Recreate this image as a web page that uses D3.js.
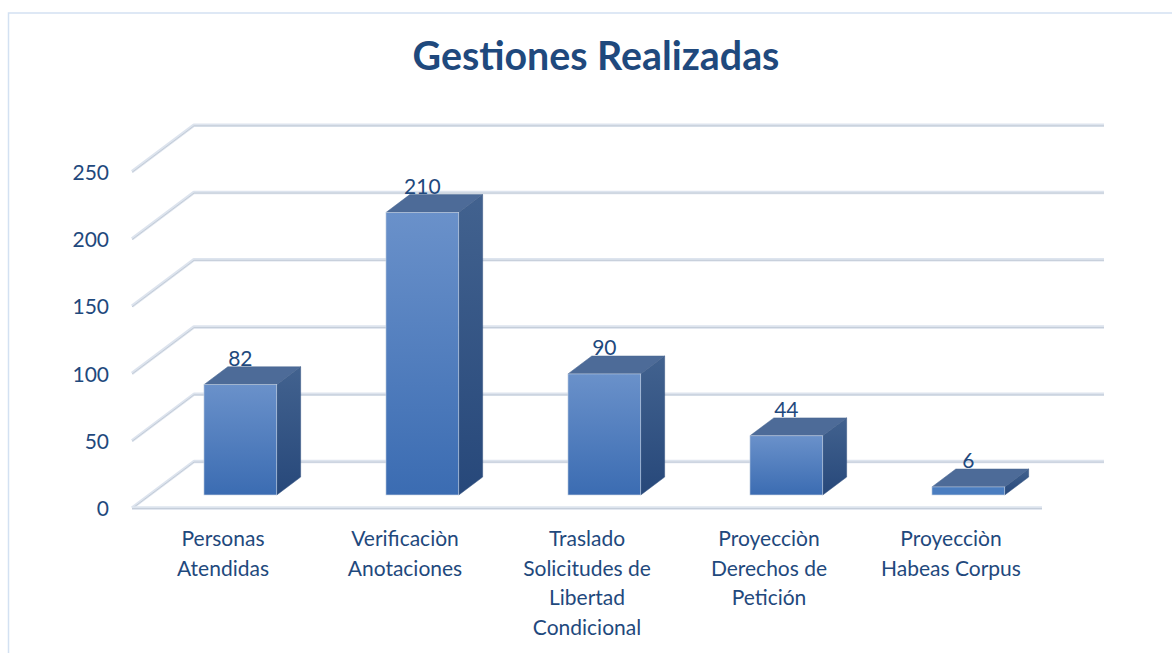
<!DOCTYPE html>
<html>
<head>
<meta charset="utf-8">
<script src="https://cdn.jsdelivr.net/npm/d3@7"></script>
<style>
  html, body { margin: 0; padding: 0; background: #ffffff; }
  svg { display: block; }
  text { font-family: Lato, "Open Sans", sans-serif; fill: #1f497d; }
</style>
</head>
<body>
<svg id="chart" width="1172" height="653"></svg>
<script>
// Chart data
const title = "Gestiones Realizadas";
const categories = [
  "Personas Atendidas",
  "Verificaciòn Anotaciones",
  "Traslado Solicitudes de Libertad Condicional",
  "Proyecciòn Derechos de Petición",
  "Proyecciòn Habeas Corpus"
];
const categoryLines = [
  ["Personas", "Atendidas"],
  ["Verificaciòn", "Anotaciones"],
  ["Traslado", "Solicitudes de", "Libertad", "Condicional"],
  ["Proyecciòn", "Derechos de", "Petición"],
  ["Proyecciòn", "Habeas Corpus"]
];
const values = [82, 210, 90, 44, 6];
const yTicks = [0, 50, 100, 150, 200, 250];

// Layout of the 3D box (front plane of the floor, oblique depth)
const frontLeft = 132, frontRight = 1042, floorY = 508, topY = 171.7;
const depthX = 62, depthY = 46.5;        // full depth offset of the back wall
const barDepthStart = 0.28, barDepthEnd = 0.665;
const barWidthRatio = 0.4;

const svg = d3.select("#chart");

// Outer chart frame
svg.append("rect")
  .attr("x", 8.5).attr("y", 13)
  .attr("width", 1200).attr("height", 700)
  .attr("fill", "none")
  .attr("stroke", "#d3e1f2")
  .attr("stroke-width", 1.5);

// Title
const titleText = svg.append("text")
  .attr("x", 596).attr("y", 70)
  .attr("text-anchor", "middle")
  .style("font-weight", "bold")
  .style("font-size", "37px")
  .text(title);
const tw = titleText.node().getComputedTextLength();
titleText.style("font-size", (37 * 367 / tw).toFixed(2) + "px");

const x = d3.scaleBand().domain(categories).range([frontLeft, frontRight]).padding(0);
const y = d3.scaleLinear().domain([0, 250]).range([floorY, topY]);

// Gridlines: left side wall diagonal + back wall line
const grid = svg.append("g");
function gridPath(v) {
  const yf = y(v), yb = y(v) - depthY;
  return `M${frontLeft},${yf}L${frontLeft + depthX},${yb}L${frontRight + depthX},${yb}`;
}
grid.selectAll("path.gl-outer").data(yTicks).join("path")
  .attr("d", gridPath)
  .attr("fill", "none")
  .attr("stroke", "#dde4ee")
  .attr("stroke-width", 3.4)
  .attr("stroke-linejoin", "round");
grid.selectAll("path.gl-inner").data(yTicks).join("path")
  .attr("d", gridPath)
  .attr("fill", "none")
  .attr("stroke", "#c3ccd8")
  .attr("stroke-width", 1)
  .attr("transform", "translate(0,0.6)");
// Floor front edge
grid.append("line")
  .attr("x1", frontLeft).attr("x2", frontRight)
  .attr("y1", floorY).attr("y2", floorY)
  .attr("stroke", "#dde4ee").attr("stroke-width", 3.4);
grid.append("line")
  .attr("x1", frontLeft).attr("x2", frontRight)
  .attr("y1", floorY + 0.6).attr("y2", floorY + 0.6)
  .attr("stroke", "#c3ccd8").attr("stroke-width", 1);

// Y axis labels on the front plane
const yAxis = d3.axisLeft(y).tickValues(yTicks).tickSize(0).tickPadding(0);
const yg = svg.append("g")
  .attr("transform", `translate(109,0)`)
  .call(yAxis);
yg.select(".domain").remove();
yg.selectAll("text")
  .attr("x", 0)
  .attr("dy", "0.36em")
  .style("font-size", "21px")
  .style("font-family", "Lato, 'Open Sans', sans-serif")
  .attr("fill", "#1f497d");

// Gradients for the bar faces
const defs = svg.append("defs");
const gFront = defs.append("linearGradient").attr("id", "gFront")
  .attr("x1", 0).attr("y1", 0).attr("x2", 0).attr("y2", 1);
gFront.append("stop").attr("offset", "0%").attr("stop-color", "#6a91ca");
gFront.append("stop").attr("offset", "100%").attr("stop-color", "#3b6cb2");
const gSide = defs.append("linearGradient").attr("id", "gSide")
  .attr("x1", 0).attr("y1", 0).attr("x2", 0).attr("y2", 1);
gSide.append("stop").attr("offset", "0%").attr("stop-color", "#42628f");
gSide.append("stop").attr("offset", "100%").attr("stop-color", "#27487a");

// Bars
const dx1 = depthX * barDepthStart, dy1 = depthY * barDepthStart;
const dx2 = depthX * barDepthEnd, dy2 = depthY * barDepthEnd;
const bw = x.bandwidth() * barWidthRatio;

const bars = svg.append("g").selectAll("g.bar")
  .data(categories.map((c, i) => ({ c, v: values[i] })))
  .join("g").attr("class", "bar");

bars.each(function (d) {
  const g = d3.select(this);
  const cx = x(d.c) + x.bandwidth() / 2 + dx1;
  const x0 = cx - bw / 2, x1 = cx + bw / 2;
  const yb = y(0) - dy1, yt = y(d.v) - dy1;
  const ox = dx2 - dx1, oy = dy2 - dy1;
  // side face
  g.append("path")
    .attr("d", `M${x1},${yb}L${x1 + ox},${yb - oy}L${x1 + ox},${yt - oy}L${x1},${yt}Z`)
    .attr("fill", "url(#gSide)")
    .attr("stroke", "#2d4d7c").attr("stroke-width", 0.5);
  // top face
  g.append("path")
    .attr("d", `M${x0},${yt}L${x0 + ox},${yt - oy}L${x1 + ox},${yt - oy}L${x1},${yt}Z`)
    .attr("fill", "#4d6b98")
    .attr("stroke", "#46648f").attr("stroke-width", 0.5);
  // front face
  g.append("rect")
    .attr("x", x0).attr("y", yt)
    .attr("width", bw).attr("height", yb - yt)
    .attr("fill", d.v > 20 ? "url(#gFront)" : "#4a7dc0")
    .attr("stroke", "#c9d4e3").attr("stroke-width", 0.6);
  // value label
  g.append("text")
    .attr("x", cx)
    .attr("y", yt - oy - 1)
    .attr("text-anchor", "middle")
    .style("font-size", "21px")
    .text(d.v);
});

// Category labels under the floor
const xl = svg.append("g").selectAll("text")
  .data(categories.map((c, i) => ({ c, lines: categoryLines[i] })))
  .join("text")
  .attr("x", d => x(d.c) + x.bandwidth() / 2)
  .attr("y", floorY + 38)
  .attr("text-anchor", "middle")
  .style("font-size", "21px");
xl.selectAll("tspan").data(d => d.lines.map(l => ({ l, cx: x(d.c) + x.bandwidth() / 2 })))
  .join("tspan")
  .attr("x", t => t.cx)
  .attr("dy", (t, i) => i === 0 ? 0 : 29.5)
  .text(t => t.l);
</script>
</body>
</html>
